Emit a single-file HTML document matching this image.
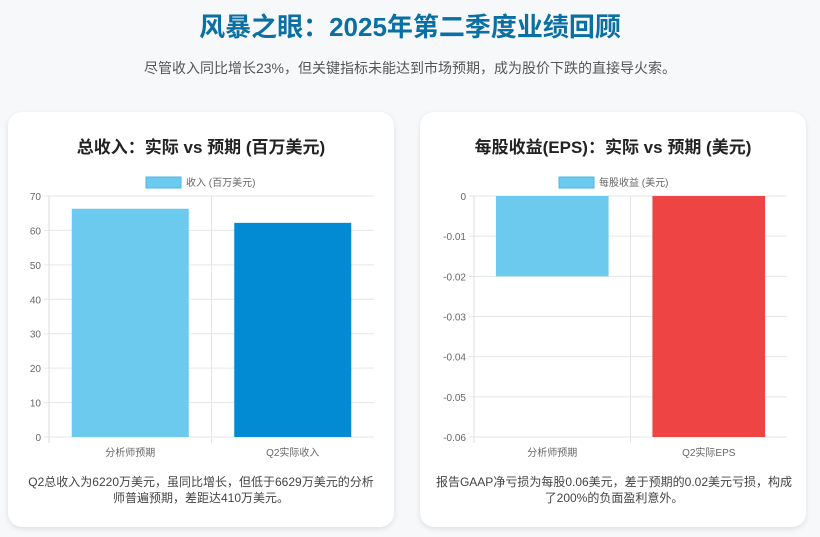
<!DOCTYPE html>
<html><head><meta charset="utf-8">
<style>
body{margin:0;width:820px;height:537px;background:#f6f8fa;font-family:"Liberation Sans","Noto Sans CJK SC",sans-serif;overflow:hidden;position:relative}
#title{position:absolute;top:7px;left:0;width:820px;text-align:center;font-size:26px;font-weight:bold;color:#0a6fa3;margin:0}
#sub{position:absolute;top:58px;left:0;width:820px;text-align:center;font-size:14px;color:#555}
.card{position:absolute;top:112px;width:386px;height:415px;background:#fff;border-radius:14px;box-shadow:0 2px 6px rgba(0,0,0,0.10)}
.ct{position:absolute;top:133px;width:386px;text-align:center;font-size:17px;font-weight:bold;color:#222}
.cap{position:absolute;top:474px;text-align:center;font-size:12px;color:#444;line-height:16px}
svg{position:absolute;left:0;top:0}
</style></head><body>
<h1 id="title">风暴之眼：2025年第二季度业绩回顾</h1>
<div id="sub">尽管收入同比增长23%，但关键指标未能达到市场预期，成为股价下跌的直接导火索。</div>
<div class="card" style="left:8px"></div>
<div class="card" style="left:420px"></div>
<div class="ct" style="left:8px">总收入：实际 vs 预期 (百万美元)</div>
<div class="ct" style="left:420px">每股收益(EPS)：实际 vs 预期 (美元)</div>
<div class="cap" style="left:28px;width:346px">Q2总收入为6220万美元，虽同比增长，但低于6629万美元的分析师普遍预期，差距达410万美元。</div>
<div class="cap" style="left:432px;width:364px">报告GAAP净亏损为每股0.06美元，差于预期的0.02美元亏损，构成了200%的负面盈利意外。</div>
<svg id="chart" width="820" height="537"></svg>
<script>
const revCats=["分析师预期","Q2实际收入"];
const revVals=[66.29,62.2];
const revTicks=[0,10,20,30,40,50,60,70];
const revColors=["#6bcaee","#028bd3"];
const epsCats=["分析师预期","Q2实际EPS"];
const epsVals=[-0.02,-0.06];
const epsTicks=[0,-0.01,-0.02,-0.03,-0.04,-0.05,-0.06];
const epsColors=["#6bcaee","#ef4444"];
const NS="http://www.w3.org/2000/svg";
const svg=document.getElementById('chart');
function mk(t,a,txt){const e=document.createElementNS(NS,t);for(const k in a)e.setAttribute(k,a[k]);if(txt!==undefined)e.textContent=txt;svg.appendChild(e);return e;}
function draw(o){
 const y=v=>o.y0+(v-o.vmax)/(o.vmin-o.vmax)*(o.y1-o.y0);
 const cw=(o.x1-o.x0)/o.cats.length;
 o.ticks.forEach(t=>{
  const l=mk('line',{x1:o.x0-5,x2:o.x1,y1:y(t),y2:y(t),stroke:'#e6e6e6'});
  
  const tx=mk('text',{x:o.x0-8,y:y(t)+4,'text-anchor':'end','font-size':10,fill:'#666'},String(t));
  
 });
 for(let i=1;i<o.cats.length;i++){mk('line',{x1:o.x0+cw*i,x2:o.x0+cw*i,y1:o.y0,y2:o.y1+6,stroke:'#e6e6e6'});}
 mk('line',{x1:o.x0,x2:o.x0,y1:o.y0,y2:o.y1+6,stroke:'#ddd'});
 o.cats.forEach((c,i)=>{
  const bw=cw*0.72,bx=o.x0+cw*i+(cw-bw)/2;
  const ya=y(Math.max(0,o.vals[i])),yb=y(Math.min(0,o.vals[i]));
  const r=mk('rect',{x:bx,y:Math.min(ya,yb),width:bw,height:Math.abs(yb-ya),fill:o.colors[i]});
  
  const t=mk('text',{x:o.x0+cw*(i+0.5),y:o.y1+19,'text-anchor':'middle','font-size':10,fill:'#666'},c);
  
 });
 const lb=mk('rect',{x:o.lx,y:177,width:35,height:11,fill:'#6bcaee',stroke:'#4db6e6'});
 
 const lt=mk('text',{x:o.lx+40,y:186,'font-size':10,fill:'#666'},o.legend);
 
}
draw({cats:revCats,vals:revVals,ticks:revTicks,colors:revColors,vmax:70,vmin:0,x0:49,x1:374,y0:196,y1:437,lx:146,legend:'收入 (百万美元)'});
draw({cats:epsCats,vals:epsVals,ticks:epsTicks,colors:epsColors,vmax:0,vmin:-0.06,x0:474,x1:787,y0:196,y1:437,lx:559,legend:'每股收益 (美元)'});
</script>
</body></html>
